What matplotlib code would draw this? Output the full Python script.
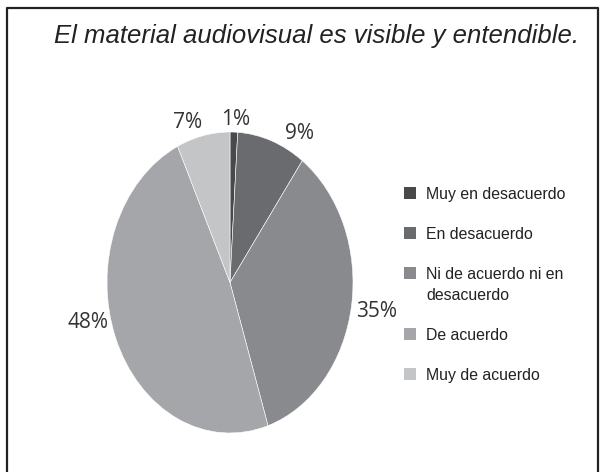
import matplotlib.pyplot as plt
from matplotlib.lines import Line2D
from matplotlib.patches import Rectangle

# data
categories = ["Muy en desacuerdo", "En desacuerdo", "Ni de acuerdo ni en\ndesacuerdo",
              "De acuerdo", "Muy de acuerdo"]
values = [1, 9, 35, 48, 7]
colors = ["#48494b", "#6a6b6f", "#898a8e", "#a5a6a9", "#c4c5c7"]
title = "El material audiovisual es visible y entendible."

# label spots in pie data coords (pie radius = 1)
label_xy = [(0.049, 1.080), (0.561, 0.993), (1.195, -0.196), (-1.154, -0.269), (-0.341, 1.066)]

W, H = 604, 472
fig = plt.figure(figsize=(W / 100, H / 100), dpi=100)

# outer frame (open at the bottom, like the cropped scan)
fig.add_artist(Line2D([7 / W, 7 / W, 598 / W, 598 / W], [0, 1 - 8 / H, 1 - 8 / H, 0],
                      transform=fig.transFigure, color="#222222", lw=1.6))

fig.text(317 / W, 1 - 36 / H, title, ha="center", va="center", fontsize=18.5,
         style="italic", family="Liberation Sans", color="#222222")

# pie is stretched vertically -> axes with auto aspect
ax = fig.add_axes([107 / W, 39 / H, 246 / W, 301 / H])
wedges, _ = ax.pie(values, colors=colors, startangle=90, counterclock=False,
                   wedgeprops=dict(edgecolor="white", linewidth=0.4))
ax.set_aspect("auto")
ax.set_xlim(-1, 1)
ax.set_ylim(-1, 1)

for v, (x, y) in zip(values, label_xy):
    ax.text(x, y, f"{v}%", ha="center", va="center", fontsize=15,
            family="Open Sans", color="#333333", clip_on=False)

# legend drawn by hand so the square sits on the first line of a wrapped label
ypix = 193
for w, lab in zip(wedges, categories):
    fig.add_artist(Rectangle((404 / W, 1 - (ypix + 6) / H), 12 / W, 12 / H,
                             transform=fig.transFigure, facecolor=w.get_facecolor(),
                             edgecolor="none"))
    fig.text(426 / W, 1 - (ypix - 6) / H, lab, ha="left", va="top",
             fontsize=11.4, family="Liberation Sans", color="#222222",
             linespacing=1.5)
    ypix += 40 + 21 * lab.count("\n")

plt.savefig("out.png", dpi=100)
